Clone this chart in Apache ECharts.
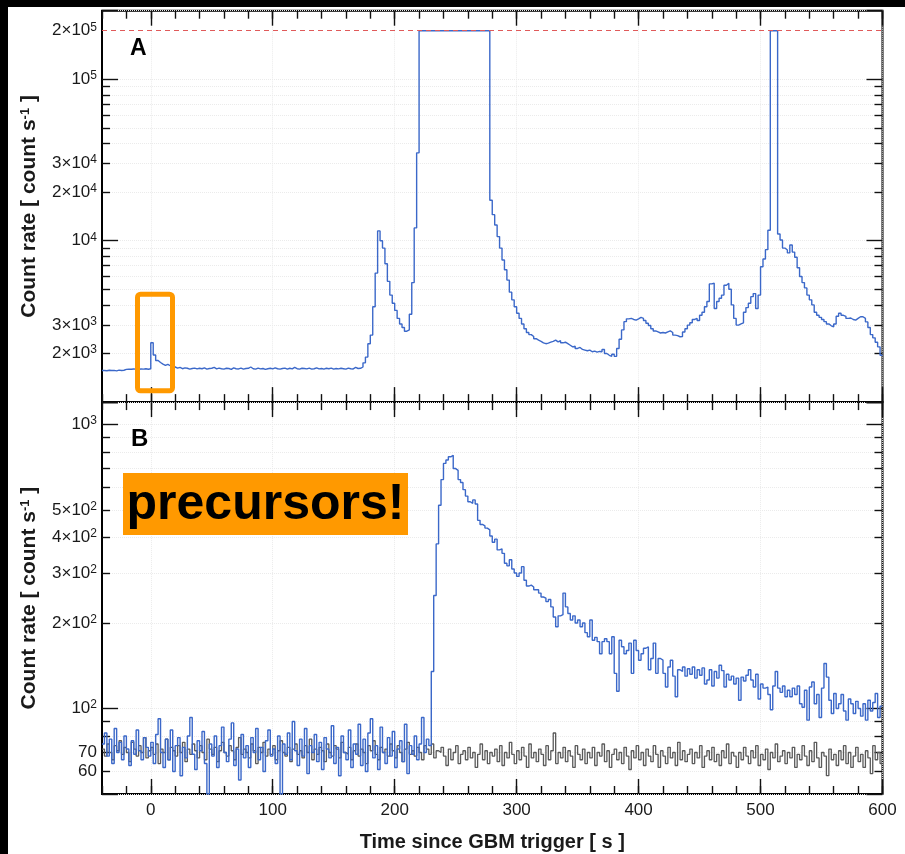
<!DOCTYPE html>
<html>
<head>
<meta charset="utf-8">
<script src="https://cdn.jsdelivr.net/npm/echarts@6/dist/echarts.min.js"></script>
<style>
  html, body { margin: 0; padding: 0; background: #000; }
  #chart { width: 905px; height: 854px; }
</style>
</head>
<body>
<div id="chart"></div>
<script>
// Light curves binned at 2 s, first bin starting at t = -40 s.
const binStart = -40;
const binWidth = 2;

// Panel A: total count rate [count/s]; 200000 marks the saturated bins.
const rateA = [
  1570,1565,1575,1568,1572,1560,1578,1570,1575,
  1595,1600,1598,1605,1600,1595,1603,1600,1608,1598,1610,
  2330,
  1960,1810,1760,1720,1690,1715,1680,1695,
  1650,1625,1640,1610,1630,1620,1600,1615,1625,1605,
  1620,1610,1630,1600,1615,1620,1640,1605,1625,1610,
  1600,1620,1615,1595,1630,1610,1605,1625,1600,1615,
  1620,1650,1610,1600,1625,1605,1615,1595,1610,1620,
  1605,1630,1610,1600,1615,1625,1600,1620,1605,1640,
  1610,1600,1620,1615,1605,1625,1600,1610,1630,1605,
  1615,1600,1620,1610,1625,1600,1615,1605,1620,1610,
  1600,1625,1610,1605,1640,1615,1620,1650,
  1750,
  1900,2300,2600,3900,6300,11500,10000,9000,7200,5600,4600,4100,3700,3300,3050,2900,2750,2800,3500,5500,12000,35000,
  200000,200000,200000,200000,200000,200000,200000,200000,200000,200000,
  200000,200000,200000,200000,200000,200000,200000,200000,200000,200000,
  200000,200000,200000,200000,200000,200000,200000,200000,200000,
  17800,14500,12500,10600,9000,7600,6600,5700,4800,4300,
  3900,3550,3300,3050,2850,2700,2620,2550,2470,2420,
  2380,2330,2300,2320,2350,2380,2420,2360,2400,2330,
  2350,2300,2250,2200,2220,2150,2180,2120,2100,2080,
  2100,2050,2070,2040,2060,
  2050,2120,2000,1950,1920,1980,1920,2150,2450,2800,
  3150,3280,3300,3250,3220,3280,3350,3300,3200,3080,
  2980,2850,2760,2720,2680,2700,2680,2720,2760,2700,
  2600,2580,2540,2550,2720,2850,3000,3100,3250,3300,
  3200,3450,3600,3900,4200,5400,5450,3800,4200,4400,
  4600,5300,5450,5000,4000,3300,3000,3050,3100,3600,
  3850,4100,4500,4700,3800,4600,6900,7700,8800,11600,
  200000,200000,200000,11000,10100,9000,8750,8400,9400,8500,
  7900,6800,6000,5500,5100,4600,4300,4000,3600,3450,
  3350,3250,3150,3050,2970,2930,3050,3400,3550,3450,
  3400,3300,3320,3250,3220,3300,3380,3380,3300,3140,
  2900,2620,2500,2350,2200,1950
];

// Panel B: source count rate [count/s]
const rateB = [
  75,82,68,78,64,85,70,76,66,80,
  72,63,77,69,84,71,66,79,73,68,
  76,64,81,92,70,62,78,66,84,60,
  74,79,58,73,67,80,93,69,61,77,
  71,83,64,50,75,68,80,62,74,86,
  70,65,78,89,63,72,56,81,67,74,
  62,79,70,85,66,73,60,77,84,68,
  72,64,80,50,75,69,82,66,90,71,
  63,78,68,85,59,74,70,81,65,76,
  61,79,72,67,87,64,73,58,80,70,
  66,84,62,75,69,88,63,78,60,82,
  92,67,74,61,86,70,64,79,68,83,
  62,72,77,65,88,59,74,69,80,66,
  75,93,70,78,74,
  135,250,380,520,640,730,750,770,780,700,
  690,640,625,590,560,535,528,543,525,460,
  445,440,432,426,405,385,395,362,365,352,
  325,318,334,310,300,292,300,316,283,270,
  272,268,262,262,255,247,245,238,242,228,
  210,194,212,214,255,228,216,205,212,200,
  205,194,200,185,179,205,174,178,172,156,
  172,176,172,156,179,133,115,174,165,156,
  160,170,133,174,160,148,156,163,165,137,
  150,170,133,150,148,133,119,140,148,130,
  110,137,135,140,130,138,132,140,128,137,
  131,139,122,126,137,120,135,128,142,136,
  119,132,126,130,122,128,107,129,125,131,
  137,126,119,132,108,122,118,119,112,99,
  120,135,118,114,120,110,116,110,118,112,
  120,104,101,116,91,119,124,104,112,93,
  118,144,129,107,96,113,100,104,112,98,
  91,108,104,96,106,100,94,104,91,107,
  98,105,113,93,102
];

// Panel B: background count rate [count/s]
const bkgB = [
  72,68,75,70,66,74,71,77,69,73,
  70,65,76,72,68,74,70,79,67,71,
  73,69,75,64,72,70,78,66,73,71,
  68,74,70,76,65,72,69,75,71,67,
  74,70,66,78,72,69,73,65,71,76,
  70,68,74,71,66,73,79,69,72,70,
  67,75,71,64,73,70,76,68,72,69,
  74,66,71,77,70,68,73,65,72,75,
  69,71,67,74,70,78,66,72,69,73,
  71,65,75,70,68,74,72,67,76,70,
  69,73,66,71,75,68,72,70,64,74,
  71,77,69,66,73,70,72,68,75,71,
  67,74,70,65,72,76,69,71,68,73,
  70,66,74,72,69,75,67,71,70,73,
  68,63,72,66,70,74,64,69,71,66,
  73,67,70,62,69,75,66,71,64,70,
  68,72,65,74,63,70,67,76,69,64,
  71,66,73,68,62,75,67,70,65,72,
  69,63,74,66,71,82,64,70,67,73,
  65,71,68,62,74,69,66,72,64,70,
  67,73,63,70,68,75,65,71,62,69,
  72,66,70,64,73,68,61,71,67,74,
  66,70,63,72,68,65,74,69,62,71,
  68,64,73,67,70,63,76,66,71,65,
  69,72,64,70,67,74,62,68,71,66,
  73,65,69,63,71,67,75,64,70,68,
  62,70,66,73,68,64,71,67,74,63,
  69,66,72,61,70,67,75,65,68,71,
  64,70,67,73,62,69,66,74,68,63,
  71,65,76,67,62,70,68,58,72,66,
  69,63,71,66,74,64,70,62,68,73,
  65,69,62,71,67,59,74,66,70,64
];

// Axis ticks and labels
const xMajorTicks = [0, 100, 200, 300, 400, 500, 600];
const yLabelsA = [2000, 3000, 10000, 20000, 30000, 100000, 200000];
const yMinorA = [2000, 3000, 4000, 5000, 6000, 7000, 8000, 9000,
                 20000, 30000, 40000, 50000, 60000, 70000, 80000, 90000];
const yLabelsB = [60, 70, 100, 200, 300, 400, 500, 1000];
const yMinorB = [60, 70, 80, 90, 200, 300, 400, 500, 600, 700, 800, 900];
const saturationLevel = 200000;

const FONT = '"Liberation Sans", Arial, Helvetica, sans-serif';
const INK = '#1a1a1a';
const BLUE = '#3b68c9';
const GREY = '#5a5a5a';

// Turn a binned rate array into step-line points (bin start, rate),
// closing the last bin at its end time.
function toSteps(arr) {
  const pts = arr.map((v, i) => [binStart + i * binWidth, v]);
  pts.push([binStart + arr.length * binWidth, arr[arr.length - 1]]);
  return pts;
}

// "2×10^5" style tick labels
function sciLabel(v) {
  if (v < 100) return '{n|' + v + '}';
  const e = Math.floor(Math.log10(v) + 1e-9);
  const m = Math.round(v / Math.pow(10, e));
  return m === 1 ? '{n|10}{s|' + e + '}' : '{n|' + m + '×10}{s|' + e + '}';
}
const sciRich = {
  n: { fontFamily: FONT, fontSize: 17, color: INK, lineHeight: 19 },
  s: { fontFamily: FONT, fontSize: 12, color: INK, verticalAlign: 'top', lineHeight: 12 }
};

const tickStyle = { color: '#111', width: 1.4 };
const faintGrid = { show: true, lineStyle: { color: '#ebebeb', type: 'dotted', width: 1 } };
const noLine = { show: false, onZero: false };

function makeXAxes(gridIndex, withLabels) {
  const base = {
    gridIndex, type: 'value', min: -40, max: 600,
    axisLine: noLine, axisLabel: { show: false }, splitLine: { show: false }
  };
  const minor = pos => Object.assign({}, base, {
    position: pos, interval: 20,
    axisTick: { show: true, inside: true, length: 8, lineStyle: tickStyle }
  });
  const major = (pos, labels) => Object.assign({}, base, {
    position: pos,
    axisTick: { show: true, inside: true, length: 15, customValues: xMajorTicks, lineStyle: tickStyle },
    splitLine: pos === 'bottom' ? faintGrid : { show: false },
    axisLabel: labels ? {
      show: true, customValues: xMajorTicks, margin: 8,
      fontFamily: FONT, fontSize: 17, color: INK
    } : { show: false },
    name: labels ? 'Time since GBM trigger [ s ]' : '',
    nameLocation: 'middle', nameGap: 38, nameMoveOverlap: false,
    nameTextStyle: { fontFamily: FONT, fontSize: 20, fontWeight: 'bold', color: INK }
  });
  return [minor('bottom'), major('bottom', withLabels), minor('top'), major('top', false)];
}

function makeYAxes(gridIndex, min, max, labels, minor) {
  const base = {
    gridIndex, type: 'log', logBase: 10, min, max,
    axisLine: noLine, axisLabel: { show: false }, splitLine: { show: false },
    nameMoveOverlap: false
  };
  return [
    Object.assign({}, base, {
      position: 'left',
      axisTick: { show: true, inside: true, length: 16, lineStyle: tickStyle },
      splitLine: faintGrid,
      axisLabel: {
        show: true, customValues: labels, margin: 5,
        formatter: v => sciLabel(v), rich: sciRich
      },
      name: 'Count rate [ count s{sup|-1} ]',
      nameLocation: 'middle', nameGap: 62,
      nameTextStyle: {
        fontFamily: FONT, fontSize: 21, fontWeight: 'bold', color: INK,
        rich: { sup: { fontFamily: FONT, fontSize: 13, fontWeight: 'bold', color: INK, verticalAlign: 'top' } }
      }
    }),
    Object.assign({}, base, {
      position: 'left',
      axisTick: { show: true, inside: true, length: 8, customValues: minor, lineStyle: tickStyle },
      splitLine: faintGrid
    }),
    Object.assign({}, base, {
      position: 'right',
      axisTick: { show: true, inside: true, length: 16, lineStyle: tickStyle }
    }),
    Object.assign({}, base, {
      position: 'right',
      axisTick: { show: true, inside: true, length: 8, customValues: minor, lineStyle: tickStyle }
    })
  ];
}

const gridBase = {
  left: 102, right: 22.5, show: true, borderColor: '#000', borderWidth: 2,
  backgroundColor: '#fff', outerBoundsMode: 'none', containLabel: false
};

const chart = echarts.init(document.getElementById('chart'), null, { renderer: 'canvas' });
chart.setOption({
  animation: false,
  backgroundColor: '#000',
  grid: [
    Object.assign({}, gridBase, { top: 10.7, height: 391.4 }),
    Object.assign({}, gridBase, { top: 402.1, height: 391.9 })
  ],
  xAxis: [].concat(makeXAxes(0, false), makeXAxes(1, true)),
  yAxis: [].concat(
    makeYAxes(0, 1000, 266000, yLabelsA, yMinorA),
    makeYAxes(1, 50, 1200, yLabelsB, yMinorB)
  ),
  series: [
    {
      type: 'line', xAxisIndex: 0, yAxisIndex: 0,
      data: toSteps(rateA), step: 'end', symbol: 'none',
      lineStyle: { color: BLUE, width: 1.4 }, z: 3,
      markLine: {
        silent: true, symbol: ['none', 'none'], label: { show: false },
        lineStyle: { color: '#e05a5a', type: [5, 4], width: 1 },
        data: [{ yAxis: saturationLevel }]
      }
    },
    {
      type: 'line', xAxisIndex: 4, yAxisIndex: 4,
      data: toSteps(bkgB), step: 'end', symbol: 'none',
      lineStyle: { color: GREY, width: 1.3 }, z: 2
    },
    {
      type: 'line', xAxisIndex: 4, yAxisIndex: 4,
      data: toSteps(rateB), step: 'end', symbol: 'none',
      lineStyle: { color: BLUE, width: 1.4 }, z: 3
    }
  ],
  graphic: [
    { type: 'rect', z: -10, silent: true, shape: { x: 8, y: 7, width: 897, height: 847 }, style: { fill: '#fff' } },
    { type: 'text', z: 10, left: 130, top: 37, style: { text: 'A', font: 'bold 23px ' + FONT, fill: '#000' } },
    { type: 'text', z: 10, left: 131, top: 427, style: { text: 'B', font: 'bold 24px ' + FONT, fill: '#000' } },
    {
      type: 'rect', z: 10, silent: true,
      shape: { x: 137.5, y: 294.2, width: 35, height: 96.6, r: 3 },
      style: { fill: 'none', stroke: '#ff9900', lineWidth: 5 }
    },
    {
      type: 'rect', z: 10, silent: true,
      shape: { x: 123, y: 473, width: 285, height: 62 },
      style: { fill: '#ff9900' }
    },
    {
      type: 'text', z: 11, silent: true, x: 265.5, y: 505,
      style: { text: 'precursors!', font: 'bold 50px ' + FONT, fill: '#000', align: 'center', verticalAlign: 'middle' }
    }
  ]
});
</script>
</body>
</html>
